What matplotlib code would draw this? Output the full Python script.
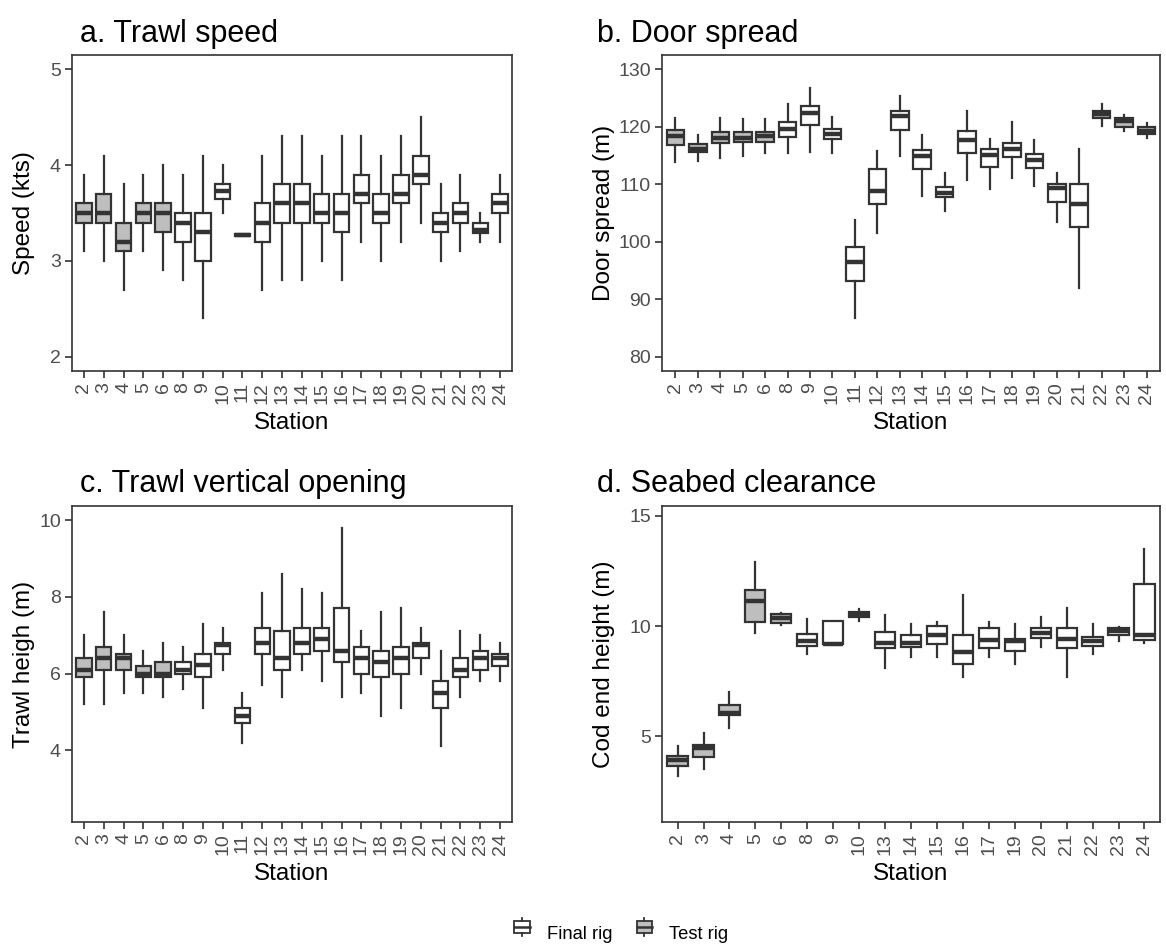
import matplotlib
matplotlib.use("Agg")
import matplotlib.pyplot as plt
from matplotlib.legend_handler import HandlerBase
from matplotlib.patches import Rectangle
from matplotlib.lines import Line2D

plt.rcParams['font.family'] = ['Liberation Sans', 'DejaVu Sans']

# ---------------- data ----------------
stations_abc = [2, 3, 4, 5, 6, 8, 9, 10, 11, 12, 13, 14, 15, 16, 17, 18, 19, 20, 21, 22, 23, 24]
stations_d = [2, 3, 4, 5, 6, 8, 9, 10, 13, 14, 15, 16, 17, 19, 20, 21, 22, 23, 24]

# a. Trawl speed (kts)
speed_lo  = [3.1, 3.0, 2.7, 3.1, 2.9, 2.8, 2.4, 3.5, 3.26, 2.7, 2.8, 2.8, 3.0, 2.8, 3.2, 3.0, 3.2, 3.4, 3.0, 3.1, 3.2, 3.2]
speed_q1  = [3.4, 3.4, 3.1, 3.4, 3.3, 3.2, 3.0, 3.65, 3.26, 3.2, 3.4, 3.4, 3.4, 3.3, 3.6, 3.4, 3.6, 3.8, 3.3, 3.4, 3.29, 3.5]
speed_med = [3.5, 3.5, 3.2, 3.5, 3.5, 3.4, 3.3, 3.73, 3.27, 3.4, 3.6, 3.6, 3.5, 3.5, 3.7, 3.5, 3.7, 3.9, 3.4, 3.5, 3.32, 3.6]
speed_q3  = [3.6, 3.7, 3.4, 3.6, 3.6, 3.5, 3.5, 3.8, 3.28, 3.6, 3.8, 3.8, 3.7, 3.7, 3.9, 3.7, 3.9, 4.1, 3.5, 3.6, 3.4, 3.7]
speed_hi  = [3.9, 4.1, 3.8, 3.9, 4.0, 3.9, 4.1, 4.0, 3.28, 4.1, 4.3, 4.3, 4.1, 4.3, 4.3, 4.1, 4.3, 4.5, 3.8, 3.9, 3.5, 3.9]
speed_rig = ['Test'] * 5 + ['Final'] * 17

# b. Door spread (m)
door_lo  = [113.8, 114.1, 114.6, 114.9, 115.4, 115.4, 115.6, 115.5, 86.8, 101.6, 114.9, 108.0, 105.3, 110.8, 109.1, 111.1, 109.7, 103.5, 91.9, 120.1, 119.2, 118.1]
door_q1  = [116.9, 115.6, 117.1, 117.4, 117.4, 118.2, 120.3, 117.8, 93.2, 106.5, 119.5, 112.6, 107.7, 115.5, 113.0, 114.7, 112.9, 107.0, 102.5, 121.5, 120.0, 118.8]
door_med = [118.4, 116.2, 118.1, 118.1, 118.4, 119.6, 122.4, 118.8, 96.5, 108.9, 121.8, 114.9, 108.5, 117.7, 115.1, 116.2, 114.3, 109.3, 106.5, 122.2, 121.0, 119.3]
door_q3  = [119.4, 117.0, 119.1, 119.1, 119.1, 120.8, 123.7, 119.6, 99.1, 112.6, 122.8, 116.0, 109.6, 119.3, 116.2, 117.2, 115.3, 110.0, 110.0, 122.7, 121.5, 119.9]
door_hi  = [121.5, 118.5, 121.5, 121.3, 121.4, 124.0, 126.8, 121.7, 103.8, 115.8, 125.3, 118.5, 111.9, 122.8, 117.8, 120.8, 117.7, 112.0, 116.1, 124.0, 122.0, 120.7]
door_rig = ['Test'] * 5 + ['Final'] * 14 + ['Test'] * 3

# c. Trawl vertical opening (m)
height_lo  = [5.2, 5.2, 5.5, 5.5, 5.4, 5.6, 5.1, 6.1, 4.2, 5.7, 5.4, 6.1, 5.8, 5.4, 5.5, 4.9, 5.1, 6.0, 4.1, 5.4, 5.8, 5.8]
height_q1  = [5.9, 6.1, 6.1, 5.9, 5.9, 6.0, 5.9, 6.5, 4.7, 6.5, 6.1, 6.5, 6.6, 6.3, 6.0, 5.9, 6.0, 6.4, 5.1, 5.9, 6.1, 6.2]
height_med = [6.1, 6.4, 6.4, 6.0, 6.0, 6.1, 6.22, 6.75, 4.9, 6.8, 6.4, 6.8, 6.9, 6.6, 6.4, 6.3, 6.4, 6.75, 5.5, 6.1, 6.4, 6.4]
height_q3  = [6.4, 6.7, 6.5, 6.2, 6.3, 6.3, 6.5, 6.8, 5.1, 7.2, 7.1, 7.2, 7.2, 7.7, 6.7, 6.6, 6.7, 6.8, 5.8, 6.4, 6.6, 6.5]
height_hi  = [7.0, 7.6, 7.0, 6.6, 6.8, 6.7, 7.3, 7.2, 5.5, 8.1, 8.6, 8.2, 8.1, 9.8, 7.1, 7.6, 7.7, 7.2, 6.6, 7.1, 7.0, 6.8]
height_rig = ['Test'] * 5 + ['Final'] * 17

# d. Seabed clearance - cod end height (m)
cod_lo  = [3.2, 3.5, 5.4, 9.7, 10.05, 8.73, 9.17, 10.24, 8.08, 8.61, 8.6, 7.7, 8.61, 8.3, 9.03, 7.7, 8.73, 9.3, 9.25]
cod_q1  = [3.67, 4.05, 5.97, 10.2, 10.15, 9.1, 9.17, 10.42, 8.99, 9.06, 9.18, 8.29, 8.99, 8.88, 9.47, 8.99, 9.1, 9.58, 9.37]
cod_med = [3.95, 4.46, 6.05, 11.12, 10.35, 9.3, 9.2, 10.54, 9.21, 9.21, 9.58, 8.82, 9.37, 9.3, 9.67, 9.4, 9.34, 9.79, 9.6]
cod_q3  = [4.11, 4.61, 6.42, 11.65, 10.54, 9.62, 10.24, 10.65, 9.71, 9.6, 10.02, 9.6, 9.92, 9.41, 9.92, 9.92, 9.52, 9.92, 11.92]
cod_hi  = [4.56, 5.14, 7.0, 12.9, 10.6, 10.3, 10.24, 10.79, 10.5, 10.09, 10.2, 11.4, 10.2, 10.09, 10.39, 10.8, 10.09, 9.97, 13.49]
cod_rig = ['Test'] * 5 + ['Final'] * 14

# ---------------- style ----------------
W, H = 1166, 949
LINE = '#333333'
TICKC = '#4D4D4D'
FILLS = {'Final': '#FFFFFF', 'Test': '#BEBEBE'}

fig = plt.figure(figsize=(W / 100, H / 100), dpi=100)


def px_axes(l, t, r, b):
    return fig.add_axes([l / W, 1 - b / H, (r - l) / W, (b - t) / H])


def draw_panel(ax, stations, lo, q1, med, q3, hi, rig, ylim, yticks, ylabel, rect):
    stats = []
    for i in range(len(stations)):
        stats.append(dict(med=med[i], q1=q1[i], q3=q3[i], whislo=lo[i], whishi=hi[i], fliers=[]))
    pos = list(range(1, len(stations) + 1))
    bp = ax.bxp(stats, positions=pos, widths=0.78, patch_artist=True, showcaps=False,
                boxprops=dict(edgecolor=LINE, linewidth=1.6),
                whiskerprops=dict(color=LINE, linewidth=1.6),
                medianprops=dict(color=LINE, linewidth=3.2, solid_capstyle='butt'),
                manage_ticks=False)
    for patch, r in zip(bp['boxes'], rig):
        patch.set_facecolor(FILLS[r])
    ax.set_xlim(0.4, len(stations) + 0.6)
    ax.set_ylim(*ylim)
    ax.set_xticks(pos)
    ax.set_xticklabels([str(s) for s in stations], rotation=90, fontsize=14, color=TICKC)
    ax.set_yticks(yticks)
    ax.set_yticklabels([str(t) for t in yticks], fontsize=14, color=TICKC)
    ax.tick_params(axis='both', length=5, width=1.2, color=LINE, pad=3)
    for sp in ax.spines.values():
        sp.set_color(LINE)
        sp.set_linewidth(1.2)
    l, t, r, b, ylx, xly = rect
    ax.set_ylabel(ylabel, fontsize=17.5, color='black')
    ax.yaxis.set_label_coords((ylx - l) / (r - l), 0.5)
    ax.set_xlabel('Station', fontsize=17.5, color='black')
    ax.xaxis.set_label_coords(0.5, -(xly - b) / (b - t))
    ax.xaxis.label.set_va('center')
    ax.yaxis.label.set_va('center')


# rect: left, top, right, bottom, ylabel-x, xlabel-y (pixels)
ra = (72, 55, 512, 371, 24, 423)
rb = (662, 55, 1160, 371, 604, 423)
rc = (72, 506, 512, 822, 24, 874)
rd = (662, 506, 1160, 822, 604, 874)

ax_a = px_axes(*ra[:4])
draw_panel(ax_a, stations_abc, speed_lo, speed_q1, speed_med, speed_q3, speed_hi, speed_rig,
           (1.85, 5.15), [2, 3, 4, 5], 'Speed (kts)', ra)
ax_b = px_axes(*rb[:4])
draw_panel(ax_b, stations_abc, door_lo, door_q1, door_med, door_q3, door_hi, door_rig,
           (77.5, 132.5), [80, 90, 100, 110, 120, 130], 'Door spread (m)', rb)
ax_c = px_axes(*rc[:4])
draw_panel(ax_c, stations_abc, height_lo, height_q1, height_med, height_q3, height_hi, height_rig,
           (2.125, 10.375), [4, 6, 8, 10], 'Trawl heigh (m)', rc)
ax_d = px_axes(*rd[:4])
draw_panel(ax_d, stations_d, cod_lo, cod_q1, cod_med, cod_q3, cod_hi, cod_rig,
           (1.12, 15.44), [5, 10, 15], 'Cod end height (m)', rd)

titles = [('a. Trawl speed', 80, 42), ('b. Door spread', 597, 42),
          ('c. Trawl vertical opening', 80, 492), ('d. Seabed clearance', 597, 492)]
for txt, x, y in titles:
    fig.text(x / W, 1 - y / H, txt, fontsize=22, color='black', ha='left', va='baseline')


# ---------------- legend ----------------
class BoxHandler(HandlerBase):
    def create_artists(self, legend, orig_handle, xdescent, ydescent, width, height, fontsize, trans):
        fc = orig_handle.get_facecolor()
        bw = width * 0.75
        bh = height * 0.7
        x0 = xdescent + (width - bw) / 2
        y0 = ydescent + (height - bh) / 2
        rect = Rectangle((x0, y0), bw, bh, facecolor=fc, edgecolor=LINE, linewidth=1.3, transform=trans)
        cx = x0 + bw / 2
        med = Line2D([x0, x0 + bw], [y0 + bh / 2] * 2, color=LINE, linewidth=1.8, transform=trans)
        w1 = Line2D([cx, cx], [y0 + bh, y0 + bh + height * 0.18], color=LINE, linewidth=1.3, transform=trans)
        w2 = Line2D([cx, cx], [y0, y0 - height * 0.18], color=LINE, linewidth=1.3, transform=trans)
        return [rect, med, w1, w2]


h_final = Rectangle((0, 0), 1, 1, facecolor=FILLS['Final'])
h_test = Rectangle((0, 0), 1, 1, facecolor=FILLS['Test'])
fig.legend([h_final, h_test], ['Final rig', 'Test rig'],
           handler_map={Rectangle: BoxHandler()}, loc='center', bbox_to_anchor=(620 / W, 1 - 933 / H),
           ncol=2, frameon=False, fontsize=13.2, handlelength=1.1, handleheight=1.1,
           handletextpad=0.8, columnspacing=1.2)

fig.savefig('out.png', dpi=100, facecolor='white')
